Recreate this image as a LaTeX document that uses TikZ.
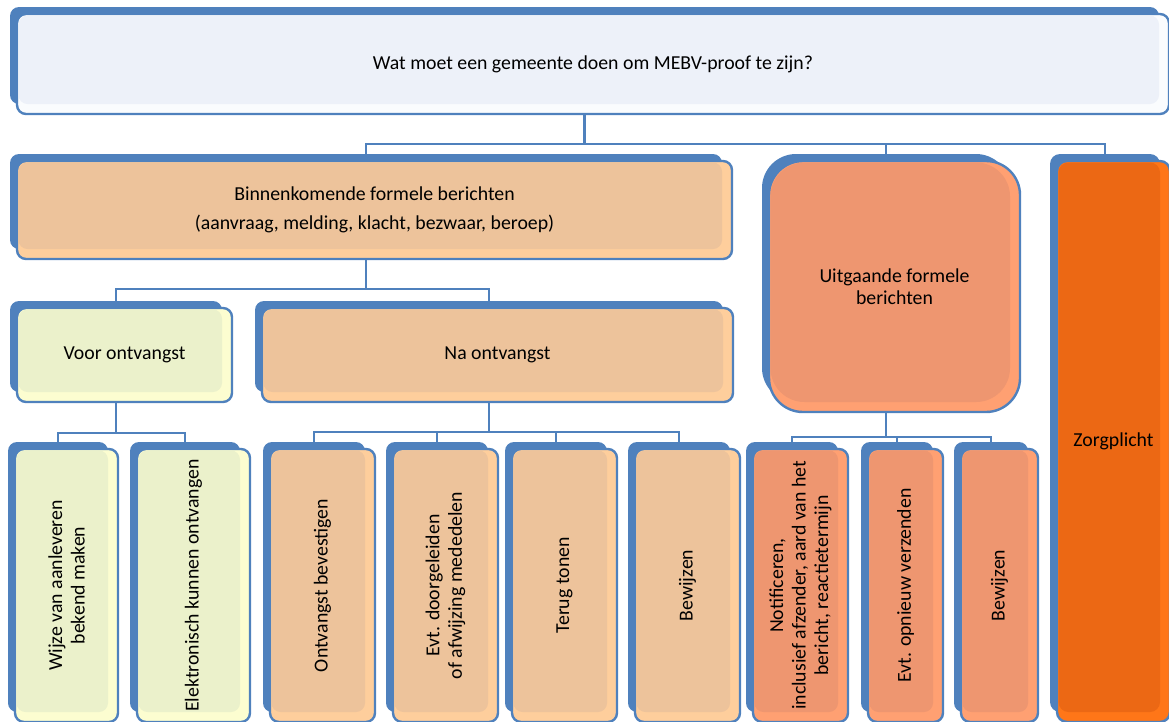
\documentclass[tikz,border=0pt]{standalone}
\usepackage{fontspec}
\setmainfont{Carlito}
\usetikzlibrary{fit,backgrounds}
\definecolor{boxblue}{HTML}{4F81BD}
\definecolor{topmain}{HTML}{EDF1F9}
\definecolor{topstrip}{HTML}{FAFCFE}
\definecolor{peachmain}{HTML}{EDC39B}
\definecolor{peachstrip}{HTML}{FECE9C}
\definecolor{yelmain}{HTML}{EBF1CB}
\definecolor{yelstrip}{HTML}{FCFDD0}
\definecolor{salmmain}{HTML}{EE9670}
\definecolor{salmstrip}{HTML}{FFA072}
\definecolor{orgmain}{HTML}{EC6814}
\definecolor{orgstrip}{HTML}{FF7618}
\tikzset{
  lbl/.style={inner sep=0pt, align=center, text=black, font=\fontsize{19.8}{22.5}\selectfont},
  conn/.style={draw=boxblue, line width=2.6pt, line join=miter}
}
\newcommand\smbox[9]{%
  \node[fit={(#2,#3) (#4,#5)}, inner sep=0pt] (#1) {};
  \fill[boxblue, rounded corners=#7] (#2,#3) rectangle (#4,#5);
  \draw[boxblue, line width=2.4pt, fill=#6strip, rounded corners=#7] (#2+7,#3+7) rectangle (#4+10,#5+10);
  \fill[#6main, rounded corners=#7] (#2+8.5,#3+8.5) rectangle (#4,#5);
  \node[lbl, #8] (#1-t) at ({(#2+#4)/2+8.5},{(#3+#5)/2+8.5}) {#9};
}
\begin{document}
\begin{tikzpicture}[x=1pt,y=-1pt]
\useasboundingbox (0,0) rectangle (1169,721);
\smbox{top}{10}{7}{1159}{104}{top}{9pt}{}{Wat moet een gemeente doen om MEBV-proof te zijn?}
\smbox{binn}{10}{154}{722}{249}{peach}{9pt}{}{Binnenkomende formele berichten\\[7pt](aanvraag, melding, klacht, bezwaar, beroep)}
\smbox{uitg}{762}{154}{1010}{402}{salm}{34pt}{}{Uitgaande formele\\berichten}
\smbox{zorg}{1050}{154}{1160}{712}{org}{10pt}{}{Zorgplicht}
\smbox{voor}{10}{301}{222}{392}{yel}{9pt}{}{Voor ontvangst}
\smbox{na}{255}{301}{723}{392}{peach}{9pt}{}{Na ontvangst}
\smbox{wijze}{8}{442}{108}{712}{yel}{9pt}{rotate=90}{Wijze van aanleveren\\bekend maken}
\smbox{elek}{130}{442}{240}{712}{yel}{9pt}{rotate=90}{Elektronisch kunnen ontvangen}
\smbox{ontv}{263}{442}{365}{712}{peach}{9pt}{rotate=90}{Ontvangst bevestigen}
\smbox{evt}{386}{442}{488}{712}{peach}{9pt}{rotate=90}{Evt. doorgeleiden\\of afwijzing mededelen}
\smbox{terug}{505}{442}{607}{712}{peach}{9pt}{rotate=90}{Terug tonen}
\smbox{bewa}{628}{442}{730}{712}{peach}{9pt}{rotate=90}{Bewijzen}
\smbox{notif}{746}{442}{838}{712}{salm}{9pt}{rotate=90}{Notificeren,\\inclusief afzender, aard van het\\bericht, reactietermijn}
\smbox{opn}{861}{442}{933}{712}{salm}{9pt}{rotate=90}{Evt. opnieuw verzenden}
\smbox{bewb}{954}{442}{1028}{712}{salm}{9pt}{rotate=90}{Bewijzen}
\coordinate (busA) at (0,144);
\coordinate (busB) at (0,289);
\coordinate (busC) at (0,433);
\coordinate (busD) at (0,432);
\coordinate (busE) at (0,437);
\begin{pgfonlayer}{background}
\draw[conn] (top.south) -- (top.south |- busA);
\draw[conn] (binn.north) -- (binn.north |- busA) -- (zorg.north |- busA) -- (zorg.north);
\draw[conn] (uitg.north) -- (uitg.north |- busA);
\draw[conn] (binn.south) -- (binn.south |- busB);
\draw[conn] (voor.north) -- (voor.north |- busB) -- (na.north |- busB) -- (na.north);
\draw[conn] (voor.south) -- (voor.south |- busC);
\draw[conn] (wijze.north) -- (wijze.north |- busC) -- (elek.north |- busC) -- (elek.north);
\draw[conn] (na.south) -- (na.south |- busD);
\draw[conn] (ontv.north) -- (ontv.north |- busD) -- (bewa.north |- busD) -- (bewa.north);
\draw[conn] (evt.north) -- (evt.north |- busD);
\draw[conn] (terug.north) -- (terug.north |- busD);
\draw[conn] (uitg.south) -- (uitg.south |- busE);
\draw[conn] (notif.north) -- (notif.north |- busE) -- (bewb.north |- busE) -- (bewb.north);
\draw[conn] (opn.north) -- (opn.north |- busE);
\end{pgfonlayer}
\end{tikzpicture}
\end{document}
